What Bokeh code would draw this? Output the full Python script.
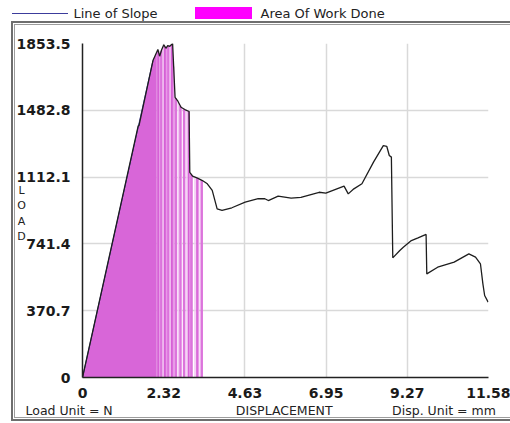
import numpy as np
from bokeh.plotting import figure
from bokeh.models import FixedTicker, Range1d, Label
from bokeh.embed import file_html
from bokeh.resources import INLINE

# ---------------- data ----------------
disp = [0, 1.59, 1.61, 2.01, 2.15, 2.20, 2.26, 2.32, 2.38, 2.43,
        2.49, 2.57, 2.64, 2.71, 2.81, 2.92, 3.04, 3.06, 3.14, 3.28,
        3.42, 3.56, 3.70, 3.84, 3.98, 4.26, 4.64, 5.01, 5.20, 5.30,
        5.58, 5.95, 6.23, 6.75, 6.94, 7.46, 7.58, 7.74, 7.97, 8.30,
        8.58, 8.68, 8.75, 8.81, 8.85, 9.05, 9.15, 9.38, 9.57, 9.80,
        9.82, 10.13, 10.60, 11.02, 11.21, 11.35, 11.42, 11.47, 11.57]
load = [0, 1398, 1396, 1759, 1820, 1783, 1820, 1846, 1827, 1842,
        1838, 1853, 1555, 1537, 1500, 1487, 1476, 1139, 1117, 1106,
        1093, 1075, 1038, 936, 927, 942, 973, 992, 992, 982,
        1006, 995, 1000, 1028, 1023, 1062, 1019, 1047, 1075, 1195,
        1287, 1282, 1232, 1223, 664, 705, 723, 760, 775, 794,
        575, 612, 640, 686, 668, 631, 520, 455, 418]

slope_x = [0, 2.01]
slope_y = [0, 1759]

work_solid_end = 2.12
work_light_end = 2.62
stripe_x = [2.16, 2.21, 2.25, 2.30, 2.35, 2.40, 2.45, 2.50, 2.55, 2.60,
            2.66, 2.73, 2.79, 2.82, 2.90, 2.98, 3.03, 3.08, 3.11, 3.21,
            3.27, 3.31, 3.40]

x_ticks = [0, 2.316, 4.632, 6.948, 9.264, 11.58]
x_tick_labels = ["0", "2.32", "4.63", "6.95", "9.27", "11.58"]
y_ticks = [0, 370.7, 741.4, 1112.1, 1482.8, 1853.5]
y_tick_labels = ["0", "370.7", "741.4", "1112.1", "1482.8", "1853.5"]

legend_labels = ["Line of Slope", "Area Of Work Done"]
caption_texts = ["Load Unit = N", "DISPLACEMENT", "Disp. Unit = mm"]
y_title = "LOAD"

# ---------------- layout ----------------
W, H = 510, 423
FL, FR, FT, FB = 82, 488, 43, 377
XMAX, YMAX = 11.58, 1853.5
FONT = "DejaVu Sans"


def dx(px):
    return (px - FL) * XMAX / (FR - FL)


def dy(py):
    return (FB - py) * YMAX / (FB - FT)


# outer double frame and legend swatches painted on the host background
OUT, INN = "#6e6e6e", "#9c9c9c"
deco = [  # (colour, x, y, w, h) in px
    (OUT, 11, 21, 499, 2), (INN, 14, 24, 496, 1),
    (OUT, 11, 21, 2, 400), (INN, 14, 24, 1, 394),
    (INN, 14, 417, 496, 1), (OUT, 11, 419, 499, 2),
    ("#3c3c9c", 12, 13, 56, 1),      # "Line of Slope" swatch
    ("#ff00ff", 195, 7, 57, 12),     # "Area Of Work Done" swatch
]
host_styles = {
    "background-image": ", ".join(f"linear-gradient({c}, {c})" for c, *_ in deco),
    "background-size": ", ".join(f"{w}px {h}px" for _, _, _, w, h in deco),
    "background-position": ", ".join(f"{x}px {y}px" for _, x, y, _, _ in deco),
    "background-repeat": "no-repeat",
    "background-color": "white",
}

p = figure(width=W, height=H, output_backend="svg", toolbar_location=None,
           x_range=Range1d(0, XMAX), y_range=Range1d(0, YMAX),
           min_border_left=FL, min_border_right=W - FR,
           min_border_top=FT, min_border_bottom=H - FB,
           styles=host_styles)
p.outline_line_color = None
p.background_fill_color = "white"
p.border_fill_alpha = 0

# ---------------- work area ----------------
xs_solid = [0] + [d for d in disp if 0 < d < work_solid_end] + [work_solid_end]
p.varea(x=xs_solid, y1=[0] * len(xs_solid), y2=list(np.interp(xs_solid, disp, load)),
        fill_color="#d866d8")
xs_light = [work_solid_end] + [d for d in disp if work_solid_end < d < work_light_end] + [work_light_end]
p.varea(x=xs_light, y1=[0] * len(xs_light), y2=list(np.interp(xs_light, disp, load)),
        fill_color="#eeb6ee")
shades = ["#d660d6", "#e89ae8", "#dc74dc", "#f2c6f2"]
widths = [2.0, 1.5, 2.5, 1.5]
n = len(stripe_x)
p.segment(x0=stripe_x, y0=[0] * n, x1=stripe_x, y1=list(np.interp(stripe_x, disp, load)),
          line_color=[shades[i % 4] for i in range(n)],
          line_width=[widths[i % 4] for i in range(n)])

# ---------------- lines ----------------
p.line(slope_x, slope_y, line_color="#3a3a99", line_width=1)
p.line(disp, load, line_color="#1e1e1e", line_width=1.3)

# ---------------- axes & grid ----------------
for ax, ticks, labels, standoff in ((p.xaxis[0], x_ticks, x_tick_labels, 4),
                                     (p.yaxis[0], y_ticks, y_tick_labels, 6)):
    ax.ticker = FixedTicker(ticks=ticks)
    ax.major_label_overrides = dict(zip(ticks, labels))
    ax.major_tick_line_color = None
    ax.minor_tick_line_color = None
    ax.axis_line_color = "#222222"
    ax.axis_line_width = 1.5
    ax.major_label_text_font = FONT
    ax.major_label_text_font_size = "14px"
    ax.major_label_text_font_style = "bold"
    ax.major_label_text_color = "#1a1a1a"
    ax.major_label_standoff = standoff

p.xgrid.ticker = FixedTicker(ticks=x_ticks)
p.ygrid.ticker = FixedTicker(ticks=y_ticks)
for g in (p.xgrid[0], p.ygrid[0]):
    g.grid_line_color = "#d9d9d9"
    g.grid_line_width = 1.5

# ---------------- stacked "LOAD" title (left panel; labels there are not clipped) ----------------
p.add_layout(Label(x=dx(21), y=dy(213), text="\n".join(y_title), text_align="center",
                   text_baseline="middle", text_font=FONT, text_font_size="11px",
                   text_color="#222222"), "left")

# ---------------- legend texts (above panel) ----------------
for text, left in zip(legend_labels, (73, 260)):
    p.add_layout(Label(x=dx(left), y=dy(13), text=text, text_align="left",
                       text_baseline="middle", text_font=FONT, text_font_size="13px",
                       text_color="#222222"), "above")

# ---------------- caption row (one label in the below panel) ----------------
NB = "\u00a0"
caption = caption_texts[0] + NB * 31 + caption_texts[1] + NB * 15 + caption_texts[2]
p.add_layout(Label(x=dx(25), y=dy(410), text=caption, text_align="left",
                   text_baseline="middle", text_font=FONT, text_font_size="12.5px",
                   text_color="#222222"), "below")

open("out.html", "w").write(file_html(p, INLINE))
